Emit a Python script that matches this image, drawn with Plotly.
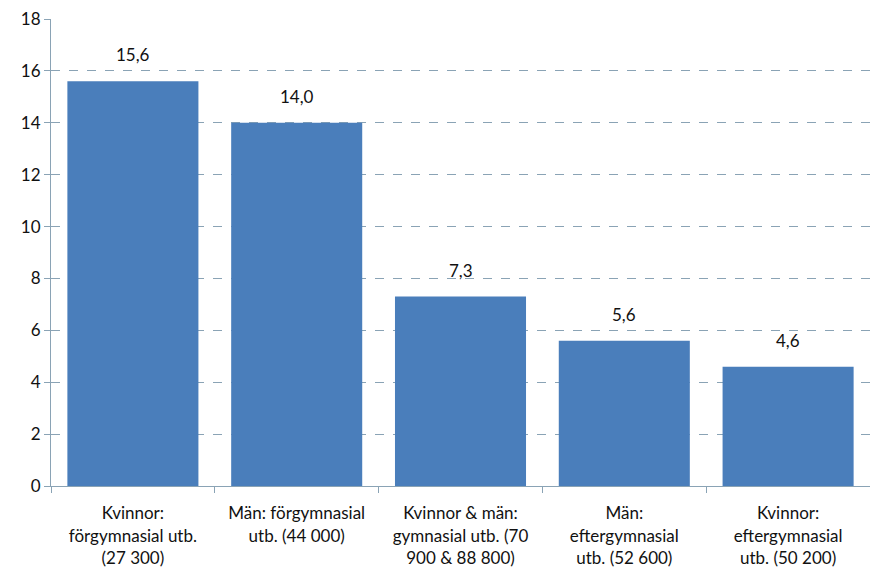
import plotly.graph_objects as go

categories = [
    "Kvinnor:<br>förgymnasial utb.<br>(27 300)",
    "Män: förgymnasial<br>utb. (44 000)",
    "Kvinnor & män:<br>gymnasial utb. (70<br>900 & 88 800)",
    "Män:<br>eftergymnasial<br>utb. (52 600)",
    "Kvinnor:<br>eftergymnasial<br>utb. (50 200)",
]
values = [15.6, 14.0, 7.3, 5.6, 4.6]
value_labels = ["15,6", "14,0", "7,3", "5,6", "4,6"]
y_ticks = [0, 2, 4, 6, 8, 10, 12, 14, 16, 18]

font_family = "Lato, Open Sans, sans-serif"
axis_color = "#8aa3b5"

fig = go.Figure(
    go.Bar(
        x=categories,
        y=values,
        marker=dict(color="#4a7ebb", line=dict(width=0)),
    )
)

for c, v, t in zip(categories, values, value_labels):
    fig.add_annotation(
        x=c, y=v, text=t, showarrow=False, yanchor="bottom", yshift=14,
        font=dict(size=17, color="#111111", family=font_family),
    )

fig.update_layout(
    width=870,
    height=578,
    margin=dict(l=51, r=0, t=19, b=92),
    paper_bgcolor="white",
    plot_bgcolor="white",
    bargap=0.2,
    showlegend=False,
    font=dict(family=font_family, size=17, color="#111111"),
)

fig.update_yaxes(
    range=[0, 18],
    tickvals=y_ticks,
    showgrid=True,
    gridcolor=axis_color,
    griddash="dash",
    gridwidth=1,
    showline=True,
    linecolor=axis_color,
    linewidth=1,
    ticks="outside",
    ticklen=6,
    tickcolor=axis_color,
    zeroline=False,
    tickfont=dict(size=17, family=font_family, color="#111111"),
)

fig.update_xaxes(
    showline=True,
    linecolor=axis_color,
    linewidth=1,
    ticks="outside",
    tickson="boundaries",
    ticklen=6,
    tickcolor=axis_color,
    ticklabelstandoff=12,
    tickfont=dict(size=17, family=font_family, color="#111111"),
    tickangle=0,
)

fig.write_html("out.html")
